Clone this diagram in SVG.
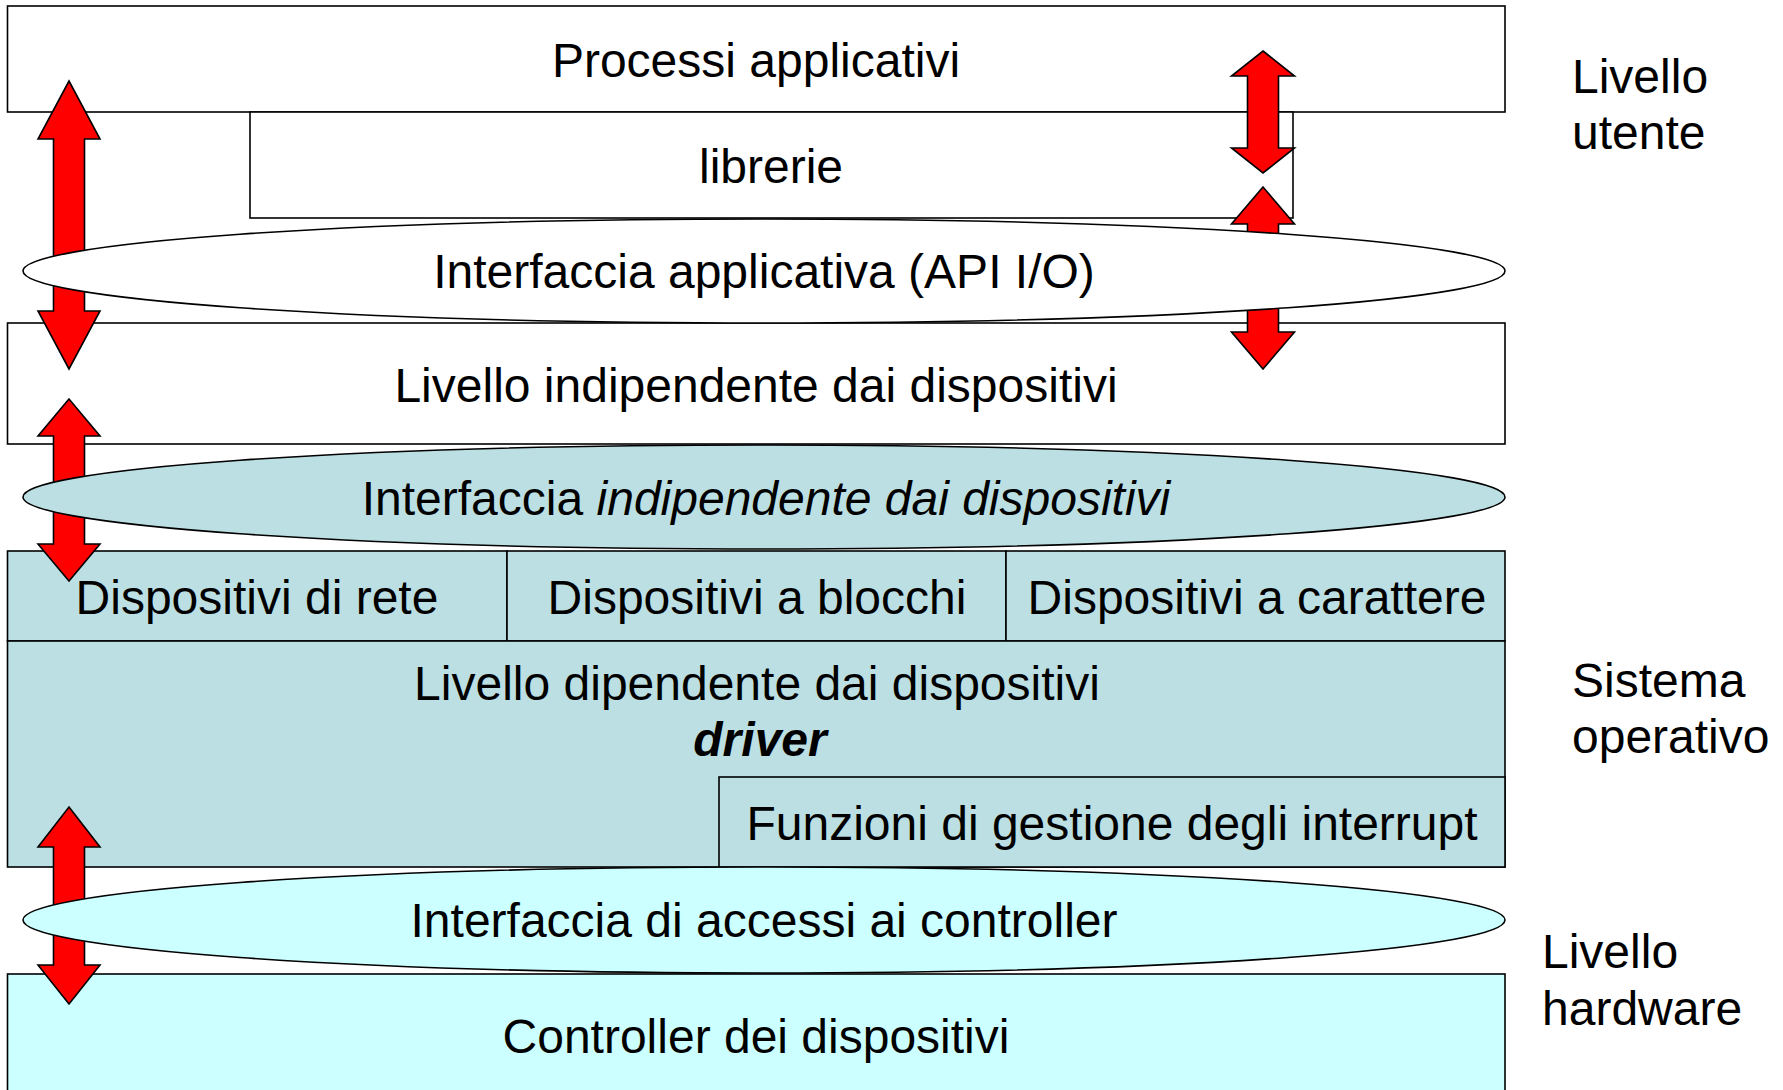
<svg xmlns="http://www.w3.org/2000/svg" width="1783" height="1090" viewBox="0 0 1783 1090">
<style>
  .box { stroke: #000; stroke-width: 1.6; }
  .w { fill: #fff; }
  .b { fill: #BBDFE3; }
  .c { fill: #CCFFFF; }
  .t { font-family: "Liberation Sans", Arial, sans-serif; font-size: 48px; fill: #000; }
  .m { text-anchor: middle; }
  .arr { fill: #FF0000; stroke: #000; stroke-width: 1.6; stroke-linejoin: miter; }
</style>
<rect width="1783" height="1090" fill="#fff"/>
<g id="processi"><rect class="box w" x="7.5" y="6" width="1497.5" height="106"/>
  <text class="t m" x="756" y="77">Processi applicativi</text></g>
<g id="librerie"><rect class="box w" x="250" y="112" width="1043" height="106"/>
  <text class="t m" x="771" y="183">librerie</text></g>
<g id="liv-indip"><rect class="box w" x="7.5" y="323" width="1497.5" height="121"/>
  <text class="t m" x="756" y="402">Livello indipendente dai dispositivi</text></g>
<g id="disp-rete"><rect class="box b" x="7.5" y="551" width="499.5" height="90"/>
  <text class="t m" x="257" y="614">Dispositivi di rete</text></g>
<g id="disp-blocchi"><rect class="box b" x="507" y="551" width="499" height="90"/>
  <text class="t m" x="757" y="614">Dispositivi a blocchi</text></g>
<g id="disp-carattere"><rect class="box b" x="1006" y="551" width="499" height="90"/>
  <text class="t m" x="1257" y="614">Dispositivi a carattere</text></g>
<g id="liv-dip"><rect class="box b" x="7.5" y="641" width="1497.5" height="226"/>
  <text class="t m" x="757" y="700">Livello dipendente dai dispositivi</text>
  <text class="t m" x="760" y="756" font-weight="bold" font-style="italic">driver</text></g>
<g id="funzioni"><rect class="box b" x="719" y="777" width="786" height="90"/>
  <text class="t m" x="1112" y="840">Funzioni di gestione degli interrupt</text></g>
<g id="controller"><rect class="box c" x="7.5" y="974" width="1497.5" height="130"/>
  <text class="t m" x="756" y="1053">Controller dei dispositivi</text></g>
<g id="connectors">
  <path class="arr" d="M69,81 L100,139 L84.5,139 L84.5,311 L100,311 L69,369 L38,311 L53.5,311 L53.5,139 L38,139 Z"/>
  <path class="arr" d="M69,399 L100,436 L84.5,436 L84.5,544 L100,544 L69,581 L38,544 L53.5,544 L53.5,436 L38,436 Z"/>
  <path class="arr" d="M69,807 L100,847 L84.5,847 L84.5,965 L100,965 L69,1004 L38,965 L53.5,965 L53.5,847 L38,847 Z"/>
  <path class="arr" d="M1263,51 L1294.5,76 L1278.5,76 L1278.5,148 L1294.5,148 L1263,173 L1231.5,148 L1247.5,148 L1247.5,76 L1231.5,76 Z"/>
  <path class="arr" d="M1263,187 L1294.5,224 L1278.5,224 L1278.5,332 L1294.5,332 L1263,369 L1231.5,332 L1247.5,332 L1247.5,224 L1231.5,224 Z"/>
</g>
<g id="api"><ellipse class="box w" cx="764" cy="271" rx="741" ry="52"/>
  <text class="t m" x="764" y="288">Interfaccia applicativa (API I/O)</text></g>
<g id="interf-indip"><ellipse class="box b" cx="764" cy="497" rx="741" ry="52"/>
  <text class="t m" x="766" y="515">Interfaccia <tspan font-style="italic">indipendente dai dispositivi</tspan></text></g>
<g id="interf-contr"><ellipse class="box c" cx="764" cy="920" rx="741" ry="53"/>
  <text class="t m" x="764" y="937">Interfaccia di accessi ai controller</text></g>
<g id="labels">
  <text class="t" x="1572" y="93">Livello</text>
  <text class="t" x="1572" y="149">utente</text>
  <text class="t" x="1572" y="697">Sistema</text>
  <text class="t" x="1572" y="753">operativo</text>
  <text class="t" x="1542" y="968">Livello</text>
  <text class="t" x="1542" y="1025">hardware</text>
</g>
</svg>
